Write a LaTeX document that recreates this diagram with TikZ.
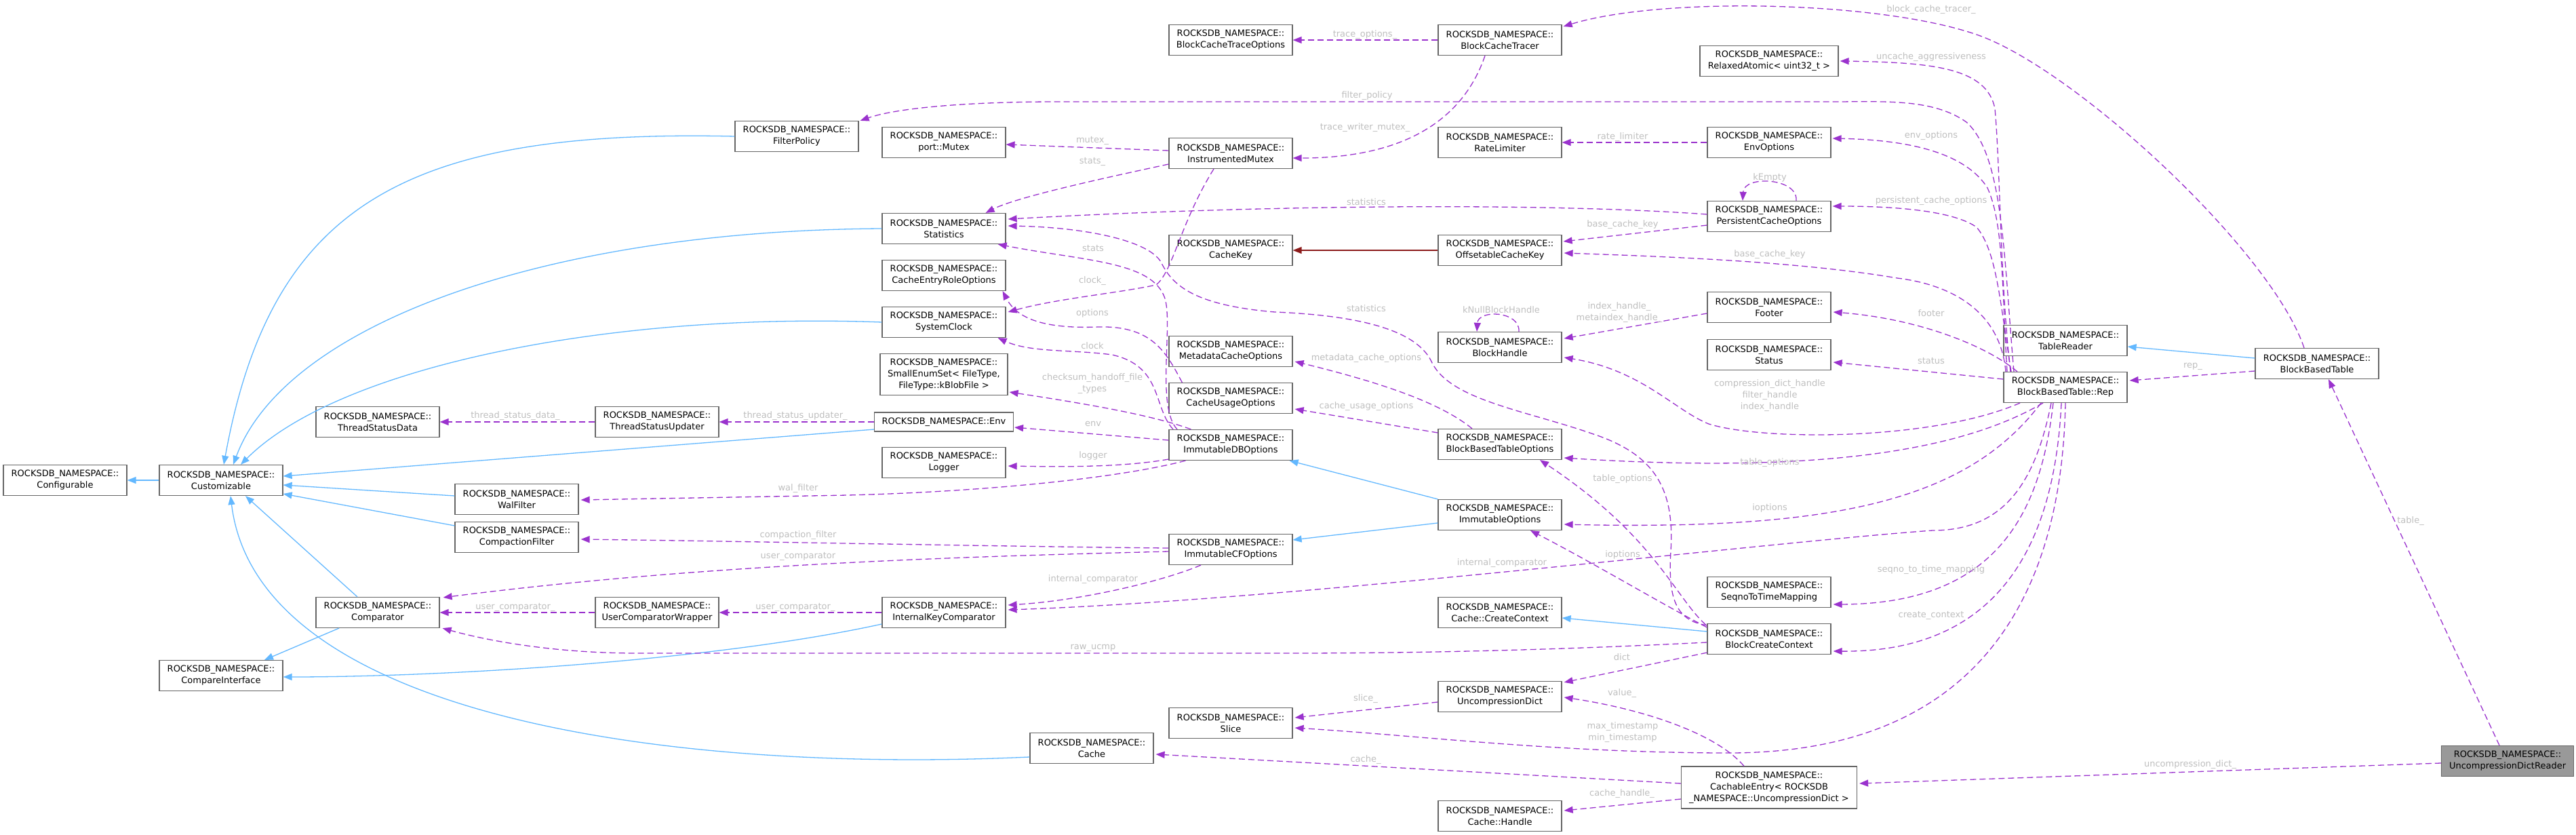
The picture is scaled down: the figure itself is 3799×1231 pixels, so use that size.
\documentclass[tikz,border=0pt]{standalone}
\usepackage{fontspec}
\setmainfont{DejaVu Sans}
\usepackage{tikz}
\usetikzlibrary{arrows.meta, calc}
\definecolor{usecol}{RGB}{154,50,205}
\definecolor{inhcol}{RGB}{99,184,255}
\definecolor{privcol}{RGB}{139,26,26}
\definecolor{boxcol}{RGB}{102,102,102}
\definecolor{lblcol}{RGB}{190,190,190}
\definecolor{selfcol}{RGB}{153,153,153}

\begin{document}
\begin{tikzpicture}[x=1pt, y=-1pt, font=\fontsize{13}{17}\selectfont,
  cls/.style={draw=boxcol, line width=1.2pt, fill=white, align=center, minimum width=182pt, minimum height=45pt, inner sep=1pt},
  uses/.style={draw=usecol, line width=1.3pt, dash pattern=on 9pt off 5pt, -{Triangle[length=13pt, width=10pt]}},
  inh/.style={draw=inhcol, line width=1.3pt, -{Triangle[length=13pt, width=10pt]}},
  priv/.style={draw=privcol, line width=1.3pt, -{Triangle[length=13pt, width=10pt]}},
  lbl/.style={text=lblcol, align=center, inner sep=0pt}]
  \useasboundingbox (0,0) rectangle (3799,1231);

  \node[cls] (conf) at (96,708) {ROCKSDB\_NAMESPACE::\\Configurable};
  \node[cls] (cust) at (326,708) {ROCKSDB\_NAMESPACE::\\Customizable};
  \node[cls] (cmpif) at (326,996) {ROCKSDB\_NAMESPACE::\\CompareInterface};
  \node[cls] (tsd) at (557,622) {ROCKSDB\_NAMESPACE::\\ThreadStatusData};
  \node[cls] (cmp) at (557,903) {ROCKSDB\_NAMESPACE::\\Comparator};
  \node[cls] (walf) at (762,736) {ROCKSDB\_NAMESPACE::\\WalFilter};
  \node[cls] (cflt) at (762,792) {ROCKSDB\_NAMESPACE::\\CompactionFilter};
  \node[cls] (tsu) at (969,622) {ROCKSDB\_NAMESPACE::\\ThreadStatusUpdater};
  \node[cls] (ucw) at (969,903) {ROCKSDB\_NAMESPACE::\\UserComparatorWrapper};
  \node[cls] (fpol) at (1175,201) {ROCKSDB\_NAMESPACE::\\FilterPolicy};
  \node[cls] (mtx) at (1392,210) {ROCKSDB\_NAMESPACE::\\port::Mutex};
  \node[cls] (stat) at (1392,337) {ROCKSDB\_NAMESPACE::\\Statistics};
  \node[cls] (cero) at (1392,406) {ROCKSDB\_NAMESPACE::\\CacheEntryRoleOptions};
  \node[cls] (clk) at (1392,475) {ROCKSDB\_NAMESPACE::\\SystemClock};
  \node[cls, minimum width=188pt, minimum height=61pt] (ses) at (1392,552) {ROCKSDB\_NAMESPACE::\\SmallEnumSet< FileType,\\ FileType::kBlobFile >};
  \node[cls, minimum width=205pt, minimum height=28pt] (env) at (1392,622) {ROCKSDB\_NAMESPACE::Env};
  \node[cls] (logr) at (1392,682) {ROCKSDB\_NAMESPACE::\\Logger};
  \node[cls] (ikc) at (1392,903) {ROCKSDB\_NAMESPACE::\\InternalKeyComparator};
  \node[cls] (cache) at (1610,1103) {ROCKSDB\_NAMESPACE::\\Cache};
  \node[cls] (bcto) at (1815,59) {ROCKSDB\_NAMESPACE::\\BlockCacheTraceOptions};
  \node[cls] (imtx) at (1815,226) {ROCKSDB\_NAMESPACE::\\InstrumentedMutex};
  \node[cls] (ckey) at (1815,369) {ROCKSDB\_NAMESPACE::\\CacheKey};
  \node[cls] (mco) at (1815,518) {ROCKSDB\_NAMESPACE::\\MetadataCacheOptions};
  \node[cls] (cuo) at (1815,587) {ROCKSDB\_NAMESPACE::\\CacheUsageOptions};
  \node[cls] (idbo) at (1815,656) {ROCKSDB\_NAMESPACE::\\ImmutableDBOptions};
  \node[cls] (icfo) at (1815,810) {ROCKSDB\_NAMESPACE::\\ImmutableCFOptions};
  \node[cls] (slice) at (1815,1066) {ROCKSDB\_NAMESPACE::\\Slice};
  \node[cls] (bct) at (2212,59) {ROCKSDB\_NAMESPACE::\\BlockCacheTracer};
  \node[cls] (rlim) at (2212,210) {ROCKSDB\_NAMESPACE::\\RateLimiter};
  \node[cls] (ock) at (2212,369) {ROCKSDB\_NAMESPACE::\\OffsetableCacheKey};
  \node[cls] (bh) at (2212,512) {ROCKSDB\_NAMESPACE::\\BlockHandle};
  \node[cls] (bbto) at (2212,655) {ROCKSDB\_NAMESPACE::\\BlockBasedTableOptions};
  \node[cls] (iopt) at (2212,759) {ROCKSDB\_NAMESPACE::\\ImmutableOptions};
  \node[cls] (ccc) at (2212,903) {ROCKSDB\_NAMESPACE::\\Cache::CreateContext};
  \node[cls] (ud) at (2212,1027) {ROCKSDB\_NAMESPACE::\\UncompressionDict};
  \node[cls] (ch) at (2212,1203) {ROCKSDB\_NAMESPACE::\\Cache::Handle};
  \node[cls, minimum width=204pt] (ra) at (2609,90) {ROCKSDB\_NAMESPACE::\\RelaxedAtomic< uint32\_t >};
  \node[cls] (envo) at (2609,210) {ROCKSDB\_NAMESPACE::\\EnvOptions};
  \node[cls] (pco) at (2609,319) {ROCKSDB\_NAMESPACE::\\PersistentCacheOptions};
  \node[cls] (footer) at (2609,453) {ROCKSDB\_NAMESPACE::\\Footer};
  \node[cls] (status) at (2609,523) {ROCKSDB\_NAMESPACE::\\Status};
  \node[cls] (s2t) at (2609,873) {ROCKSDB\_NAMESPACE::\\SeqnoToTimeMapping};
  \node[cls] (bcc) at (2609,942) {ROCKSDB\_NAMESPACE::\\BlockCreateContext};
  \node[cls, minimum width=259pt, minimum height=62pt] (ce) at (2609,1161) {ROCKSDB\_NAMESPACE::\\CachableEntry< ROCKSDB\\\_NAMESPACE::UncompressionDict >};
  \node[cls] (tr) at (3046,502) {ROCKSDB\_NAMESPACE::\\TableReader};
  \node[cls] (rep) at (3046,571) {ROCKSDB\_NAMESPACE::\\BlockBasedTable::Rep};
  \node[cls] (bbt) at (3417,536) {ROCKSDB\_NAMESPACE::\\BlockBasedTable};
  \node[cls, fill=selfcol, minimum width=195pt] (udr) at (3698,1122) {ROCKSDB\_NAMESPACE::\\UncompressionDictReader};

  \draw[inh] (cust) -- (conf);
  \draw[inh] (fpol.west) .. controls (600,190) and (400,300) .. ($(cust.north)+(4,0)$);
  \draw[inh] (stat.west) .. controls (800,340) and (420,480) .. ($(cust.north)+(18,0)$);
  \draw[inh] (clk.west) .. controls (900,460) and (500,540) .. ($(cust.north)+(29,0)$);
  \draw[inh] ($(env.west)+(0,11)$) -- ($(cust.east)+(0,-6)$);
  \draw[inh] ($(walf.west)+(0,-5)$) -- ($(cust.east)+(0,7)$);
  \draw[inh] ($(cflt.west)+(0,-17)$) -- ($(cust.east)+(0,20)$);
  \draw[inh] ($(cmp.north)+(-30,0)$) -- ($(cust.south)+(36,0)$);
  \draw[inh] ($(cache.west)+(0,13)$) .. controls (1000,1140) and (380,1060) .. ($(cust.south)+(14,0)$);
  \draw[inh] ($(cmp.south)+(-57,0)$) -- ($(cmpif.north)+(64,0)$);
  \draw[inh] ($(ikc.west)+(0,17)$) .. controls (1050,975) and (650,998) .. ($(cmpif.east)+(0,2)$);
  \draw[inh] (iopt.north west) -- ($(idbo.south east)+(-5,0)$);
  \draw[inh] ($(iopt.west)+(0,12)$) -- ($(icfo.east)+(0,-14)$);
  \draw[inh] ($(bcc.west)+(0,-11)$) -- ($(ccc.east)+(0,8)$);
  \draw[inh] ($(bbt.west)+(0,-8)$) -- ($(tr.east)+(0,9)$);
  \draw[priv] (ock) -- (ckey);

  \draw[uses] (bct) -- (bcto);
  \draw[uses] ($(bct.south)+(-22,0)$) .. controls (2160,170) and (2080,233) .. ($(imtx.east)+(0,7)$);
  \draw[uses] ($(bbt.north)+(-19,0)$) .. controls (3350,370) and (3060,101) .. (2915,51) .. controls (2770,1) and (2450,-5) .. ($(bct.east)+(2,-20)$);
  \draw[uses] ($(rep.north)+(-81,0)$) .. controls (2950,420) and (2950,250) .. (2942,160) .. controls (2930,100) and (2850,92) .. ($(ra.east)+(2,0)$);
  \draw[uses] ($(rep.north)+(-76,0)$) .. controls (2955,380) and (2955,230) .. (2900,180) .. controls (2850,145) and (2780,150) .. (2700,150) -- (1560,150) .. controls (1420,150) and (1320,160) .. ($(fpol.north east)+(2,0)$);
  \draw[uses] ($(rep.north)+(-86,0)$) .. controls (2952,420) and (2955,330) .. (2931,277) .. controls (2895,220) and (2800,206) .. ($(envo.east)+(2,-6)$);
  \draw[uses] (envo) -- (rlim);
  \draw[uses] ($(imtx.west)+(0,-4)$) -- ($(mtx.east)+(0,3)$);
  \draw[uses] ($(imtx.west)+(0,16)$) .. controls (1640,260) and (1500,290) .. ($(stat.north east)+(-30,0)$);
  \draw[uses] ($(pco.north)+(40,0)$) .. controls (2652,262) and (2572,258) .. ($(pco.north)+(-39,0)$);
  \draw[uses] ($(pco.west)+(0,-3)$) .. controls (2300,300) and (1900,300) .. ($(stat.east)+(3,-14)$);
  \draw[uses] ($(pco.west)+(0,13)$) -- ($(ock.east)+(2,-13)$);
  \draw[uses] ($(rep.north)+(-80,0)$) .. controls (2950,450) and (2945,370) .. (2915,335) .. controls (2880,310) and (2790,304) .. ($(pco.east)+(2,-15)$);
  \draw[uses] ($(rep.north)+(-88,0)$) .. controls (2950,460) and (2880,420) .. (2798,410) .. controls (2650,385) and (2450,378) .. ($(ock.east)+(3,4)$);
  \draw[uses] ($(idbo.north)+(-79,0)$) .. controls (1705,600) and (1730,480) .. (1718,440) .. controls (1700,385) and (1600,385) .. ($(stat.south east)+(-12,0)$);
  \draw[uses] ($(bcc.north west)+(0,3)$) .. controls (2470,915) and (2460,880) .. (2464,813) .. controls (2470,720) and (2440,670) .. (2350,640) .. controls (2250,605) and (2140,590) .. (2112,535) .. controls (2090,485) and (2000,465) .. (1880,460) .. controls (1760,450) and (1730,420) .. (1714,390) .. controls (1700,355) and (1600,335) .. ($(stat.east)+(3,-4)$);
  \draw[uses] ($(idbo.north)+(-85,0)$) .. controls (1700,600) and (1715,540) .. (1640,523) .. controls (1580,515) and (1520,520) .. ($(clk.south east)+(-12,0)$);
  \draw[uses] ($(cuo.north west)+(20,0)$) .. controls (1720,520) and (1700,480) .. (1620,482) .. controls (1540,485) and (1500,470) .. ($(cero.south east)+(-5,0)$);
  \draw[uses] ($(imtx.south)+(-25,0)$) .. controls (1740,330) and (1730,400) .. (1705,420) .. controls (1650,432) and (1560,440) .. ($(clk.east)+(3,-15)$);
  \draw[uses] ($(idbo.north west)+(33,0)$) .. controls (1700,612) and (1600,595) .. ($(ses.east)+(2,26)$);
  \draw[uses] ($(idbo.west)+(0,-7)$) -- ($(env.east)+(1,8)$);
  \draw[uses] ($(idbo.west)+(0,21)$) .. controls (1650,690) and (1550,688) .. ($(logr.east)+(3,5)$);
  \draw[uses] ($(idbo.south west)+(25,0)$) .. controls (1650,705) and (1450,725) .. (1250,730) -- ($(walf.east)+(3,1)$);
  \draw[uses] (env) -- (tsu);
  \draw[uses] (tsu) -- (tsd);
  \draw[uses] ($(icfo.west)+(0,-2)$) .. controls (1500,806) and (1100,798) .. ($(cflt.east)+(3,3)$);
  \draw[uses] ($(icfo.west)+(0,3)$) .. controls (1450,820) and (1050,830) .. ($(cmp.north east)+(5,1)$);
  \draw[uses] ($(icfo.south)+(-44,0)$) .. controls (1720,855) and (1600,885) .. ($(ikc.east)+(3,-11)$);
  \draw[uses] (ikc) -- (ucw);
  \draw[uses] (ucw) -- (cmp);
  \draw[uses] ($(bcc.west)+(0,5)$) .. controls (2300,958) and (2100,963) .. (1900,963) -- (940,963) .. controls (820,963) and (720,945) .. ($(cmp.south east)+(4,0)$);
  \draw[uses] ($(rep.south)+(-21,0)$) .. controls (3000,720) and (2950,782) .. (2850,782) .. controls (2600,800) and (1900,885) .. ($(ikc.east)+(3,-4)$);
  \draw[uses] ($(rep.south)+(-36,0)$) .. controls (2900,740) and (2700,782) .. ($(iopt.east)+(3,14)$);
  \draw[uses] ($(rep.south)+(-33,0)$) .. controls (2900,660) and (2700,700) .. ($(bbto.east)+(3,20)$);
  \draw[uses] ($(rep.south)+(-67,0)$) .. controls (2850,650) and (2600,650) .. (2520,625) .. controls (2470,605) and (2420,545) .. ($(bh.east)+(3,15)$);
  \draw[uses] ($(footer.west)+(0,9)$) -- ($(bh.east)+(3,-13)$);
  \draw[uses] ($(bh.north)+(28,0)$) .. controls (2242,458) and (2180,456) .. ($(bh.north)+(-34,0)$);
  \draw[uses] ($(rep.north)+(-71,0)$) .. controls (2930,510) and (2830,470) .. ($(footer.east)+(3,7)$);
  \draw[uses] ($(rep.west)+(0,-12)$) -- ($(status.east)+(3,11)$);
  \draw[uses] ($(rep.south)+(-18,0)$) .. controls (3010,750) and (2950,890) .. ($(s2t.east)+(3,18)$);
  \draw[uses] ($(rep.south)+(-6,0)$) .. controls (3030,800) and (2950,962) .. ($(bcc.east)+(3,18)$);
  \draw[uses] ($(bbt.west)+(0,11)$) -- ($(rep.east)+(3,-10)$);
  \draw[uses] (rep.south) .. controls (3040,900) and (2900,1110) .. (2550,1110) .. controls (2300,1110) and (2100,1085) .. ($(slice.east)+(3,7)$);
  \draw[uses] ($(ud.west)+(0,8)$) -- ($(slice.east)+(3,-8)$);
  \draw[uses] ($(bcc.south west)+(0,-3)$) -- ($(ud.north east)+(3,2)$);
  \draw[uses] ($(ce.north)+(-37,0)$) .. controls (2530,1080) and (2420,1045) .. ($(ud.east)+(3,1)$);
  \draw[uses] ($(ce.west)+(0,-6)$) -- ($(cache.east)+(3,9)$);
  \draw[uses] ($(ce.west)+(0,17)$) -- ($(ch.east)+(3,-8)$);
  \draw[uses] ($(udr.west)+(0,3)$) -- ($(ce.east)+(3,-6)$);
  \draw[uses] ($(udr.north)+(-12,0)$) -- ($(bbt.south)+(17,0)$);
  \draw[uses] ($(bbto.north)+(-41,0)$) .. controls (2120,590) and (2020,560) .. ($(mco.east)+(3,15)$);
  \draw[uses] ($(bbto.west)+(0,-17)$) -- ($(cuo.east)+(3,16)$);
  \draw[uses] ($(bcc.north west)+(-2,2)$) .. controls (2470,880) and (2440,790) .. ($(bbto.south)+(59,0)$);
  \draw[uses] ($(bcc.north west)+(0,6)$) .. controls (2450,890) and (2350,830) .. ($(iopt.south)+(45,0)$);

  \node[lbl] (l1) at (2013,51) {trace\_options\_};
  \node[lbl] (l2) at (2013,188) {trace\_writer\_mutex\_};
  \node[lbl] (l3) at (2848,14) {block\_cache\_tracer\_};
  \node[lbl] (l4) at (2848,84) {uncache\_aggressiveness};
  \node[lbl] (l5) at (2016,141) {filter\_policy};
  \node[lbl] (l6) at (2848,200) {env\_options};
  \node[lbl] (l7) at (2393,202) {rate\_limiter};
  \node[lbl] (l8) at (1611,207) {mutex\_};
  \node[lbl] (l9) at (1611,238) {stats\_};
  \node[lbl] (l10) at (2610,262) {kEmpty};
  \node[lbl] (l11) at (2015,298) {statistics};
  \node[lbl] (l12) at (2393,331) {base\_cache\_key};
  \node[lbl] (l13) at (2848,296) {persistent\_cache\_options};
  \node[lbl] (l14) at (2610,375) {base\_cache\_key};
  \node[lbl] (l15) at (1612,366) {stats};
  \node[lbl] (l16) at (2015,455) {statistics};
  \node[lbl] (l17) at (1611,414) {clock\_};
  \node[lbl] (l18) at (1611,462) {options};
  \node[lbl] (l19) at (1611,510) {clock};
  \node[lbl] (l20) at (1611,566) {checksum\_handoff\_file\\\_types};
  \node[lbl] (l21) at (1612,625) {env};
  \node[lbl] (l22) at (1612,672) {logger};
  \node[lbl] (l23) at (1177,720) {wal\_filter};
  \node[lbl] (l24) at (1173,613) {thread\_status\_updater\_};
  \node[lbl] (l25) at (760,613) {thread\_status\_data\_};
  \node[lbl] (l26) at (1177,789) {compaction\_filter};
  \node[lbl] (l27) at (1177,820) {user\_comparator};
  \node[lbl] (l28) at (1612,854) {internal\_comparator};
  \node[lbl] (l29) at (1173,895) {user\_comparator\_};
  \node[lbl] (l30) at (760,895) {user\_comparator\_};
  \node[lbl] (l31) at (1612,955) {raw\_ucmp};
  \node[lbl] (l32) at (2215,830) {internal\_comparator};
  \node[lbl] (l33) at (2610,749) {ioptions};
  \node[lbl] (l34) at (2393,818) {ioptions};
  \node[lbl] (l35) at (2610,682) {table\_options};
  \node[lbl] (l36) at (2393,706) {table\_options};
  \node[lbl] (l37) at (2610,583) {compression\_dict\_handle\\filter\_handle\\index\_handle};
  \node[lbl] (l38) at (2388,461) {index\_handle\_\\metaindex\_handle\_};
  \node[lbl] (l39) at (2214,457) {kNullBlockHandle};
  \node[lbl] (l40) at (2848,462) {footer};
  \node[lbl] (l41) at (2848,532) {status};
  \node[lbl] (l42) at (2848,840) {seqno\_to\_time\_mapping};
  \node[lbl] (l43) at (2848,907) {create\_context};
  \node[lbl] (l44) at (3234,540) {rep\_};
  \node[lbl] (l45) at (2393,1080) {max\_timestamp\\min\_timestamp};
  \node[lbl] (l46) at (2014,1030) {slice\_};
  \node[lbl] (l47) at (2392,969) {dict};
  \node[lbl] (l48) at (2392,1022) {value\_};
  \node[lbl] (l49) at (2014,1120) {cache\_};
  \node[lbl] (l50) at (2392,1170) {cache\_handle\_};
  \node[lbl] (l51) at (3230,1127) {uncompression\_dict\_};
  \node[lbl] (l52) at (3555,768) {table\_};
  \node[lbl] (l53) at (2015,528) {metadata\_cache\_options};
  \node[lbl] (l54) at (2015,599) {cache\_usage\_options};
\end{tikzpicture}
\end{document}
